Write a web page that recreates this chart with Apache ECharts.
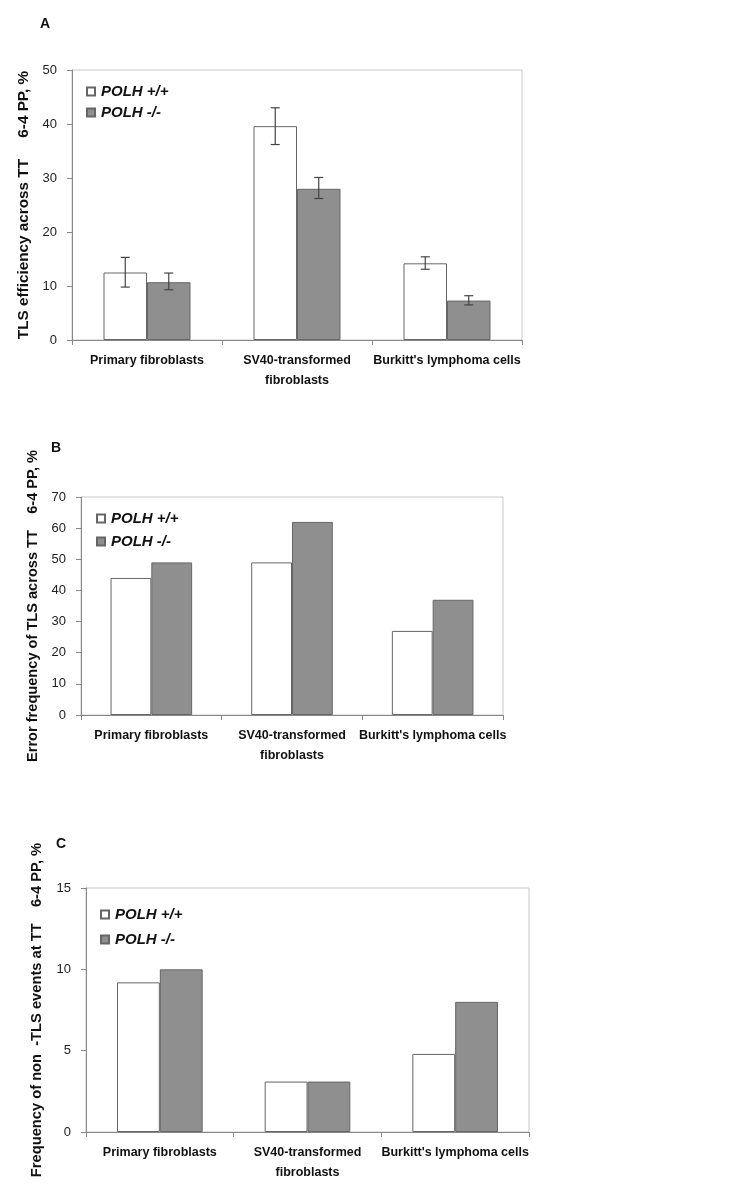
<!DOCTYPE html>
<html>
<head>
<meta charset="utf-8">
<script src="https://cdn.jsdelivr.net/npm/echarts@6/dist/echarts.min.js"></script>
<style>
html,body{margin:0;padding:0;background:#fff;}
#chart{width:750px;height:1192px;}
</style>
</head>
<body>
<div id="chart"></div>
<script>
const categories = ['Primary fibroblasts', 'SV40-transformed\nfibroblasts', "Burkitt's lymphoma cells"];
const seriesNames = ['POLH +/+', 'POLH -/-'];

// Panel A: TLS efficiency (%), with error bars
const aWild = [12.5, 39.6, 14.2];
const aNull = [10.7, 28.0, 7.3];
const aWildLow = [9.8, 36.2, 13.1];
const aWildHigh = [15.3, 43.0, 15.4];
const aNullLow = [9.3, 26.2, 6.5];
const aNullHigh = [12.4, 30.1, 8.2];

// Panel B: error frequency (%)
const bWild = [44, 49, 27];
const bNull = [49, 62, 37];

// Panel C: non-TLS events frequency (%)
const cWild = [9.2, 3.1, 4.8];
const cNull = [10.0, 3.1, 8.0];

const yTicksA = {min: 0, max: 50, interval: 10};
const yTicksB = {min: 0, max: 70, interval: 10};
const yTicksC = {min: 0, max: 15, interval: 5};

const NB = '\u00a0';
const titleA = 'TLS efficiency across TT' + NB.repeat(5) + '6-4 PP, %';
const titleB = 'Error frequency of TLS across TT' + NB.repeat(4) + '6-4 PP, %';
const titleC = 'Frequency of non' + NB + ' -TLS events at TT' + NB.repeat(4) + '6-4 PP, %';

const GAP = 0.42;
const arial = "'Liberation Sans', Arial, sans-serif";

const grids = [
  {left: 72, top: 70, width: 450, height: 270},
  {left: 81, top: 497, width: 422, height: 218},
  {left: 86, top: 888, width: 443, height: 244}
];

function xAxisFor(i) {
  return {
    type: 'category', gridIndex: i, data: categories,
    axisLine: {lineStyle: {color: '#888', width: 1}},
    axisTick: {show: true, length: 5, lineStyle: {color: '#888'}},
    axisLabel: {color: '#111', fontFamily: arial, fontWeight: 'bold', fontSize: 12.5, margin: 11, lineHeight: 20, interval: 0}
  };
}
function yAxisFor(i, t, name, gap, fs) {
  return {
    type: 'value', gridIndex: i, min: t.min, max: t.max, interval: t.interval,
    name: name, nameLocation: 'middle', nameRotate: 90, nameGap: gap,
    nameTextStyle: {color: '#111', fontFamily: arial, fontWeight: 'bold', fontSize: fs},
    axisLine: {show: true, lineStyle: {color: '#888'}},
    axisTick: {show: true, length: 5, lineStyle: {color: '#888'}},
    axisLabel: {color: '#222', fontFamily: arial, fontSize: 13, margin: 15},
    splitLine: {show: false}
  };
}

function barSeries(i, name, data, color) {
  return {
    type: 'bar', name: name, xAxisIndex: i, yAxisIndex: i, data: data,
    barGap: '0%', barCategoryGap: (GAP * 100) + '%', z: 2,
    itemStyle: {color: color, borderColor: '#666', borderWidth: 1},
    emphasis: {disabled: true}, animation: false
  };
}

function errSeries(i, lows, highs, side) {
  return {
    type: 'custom', xAxisIndex: i, yAxisIndex: i, animation: false, z: 10,
    data: lows.map((lo, k) => [k, lo, highs[k], side]),
    renderItem: function (params, api) {
      const cat = api.value(0), lo = api.value(1), hi = api.value(2), s = api.value(3);
      const band = api.size([1, 0])[0];
      const bw = band * (1 - GAP) / 2;
      const cx = api.coord([cat, 0])[0] + s * bw / 2;
      const yLo = api.coord([cat, lo])[1];
      const yHi = api.coord([cat, hi])[1];
      const cap = 4.5;
      const st = {stroke: '#444', lineWidth: 1.2};
      return {type: 'group', children: [
        {type: 'line', shape: {x1: cx, y1: yLo, x2: cx, y2: yHi}, style: st},
        {type: 'line', shape: {x1: cx - cap, y1: yLo, x2: cx + cap, y2: yLo}, style: st},
        {type: 'line', shape: {x1: cx - cap, y1: yHi, x2: cx + cap, y2: yHi}, style: st}
      ]};
    }
  };
}

function legendFor(left, top, gap) {
  return {
    data: seriesNames, orient: 'vertical', left: left, top: top, padding: 0,
    itemWidth: 8, itemHeight: 8, itemGap: gap, icon: 'rect',
    selectedMode: false,
    textStyle: {fontFamily: arial, fontWeight: 'bold', fontStyle: 'italic', fontSize: 15, color: '#111', padding: [0, 0, 0, 1]}
  };
}

const panelTitle = (t, l, tp) => ({text: t, left: l, top: tp, padding: 0,
  textStyle: {fontFamily: arial, fontWeight: 'bold', fontSize: 14, color: '#111'}});

const chart = echarts.init(document.getElementById('chart'), null, {renderer: 'canvas'});
chart.setOption({
  backgroundColor: '#fff',
  animation: false,
  grid: grids.map(g => Object.assign({show: true, borderColor: '#c8c8c8', borderWidth: 1, backgroundColor: 'transparent'}, g)),
  title: [panelTitle('A', 40, 17), panelTitle('B', 51, 441), panelTitle('C', 56, 837)],
  legend: [legendFor(86, 84, 6), legendFor(96, 511, 8), legendFor(100, 907, 10)],
  xAxis: [xAxisFor(0), xAxisFor(1), xAxisFor(2)],
  yAxis: [yAxisFor(0, yTicksA, titleA, 35, 15.3), yAxisFor(1, yTicksB, titleB, 38, 14.6), yAxisFor(2, yTicksC, titleC, 42, 14.7)],
  series: [
    barSeries(0, seriesNames[0], aWild, '#ffffff'),
    barSeries(0, seriesNames[1], aNull, '#8f8f8f'),
    errSeries(0, aWildLow, aWildHigh, -1),
    errSeries(0, aNullLow, aNullHigh, 1),
    barSeries(1, seriesNames[0], bWild, '#ffffff'),
    barSeries(1, seriesNames[1], bNull, '#8f8f8f'),
    barSeries(2, seriesNames[0], cWild, '#ffffff'),
    barSeries(2, seriesNames[1], cNull, '#8f8f8f')
  ]
});
</script>
</body>
</html>
